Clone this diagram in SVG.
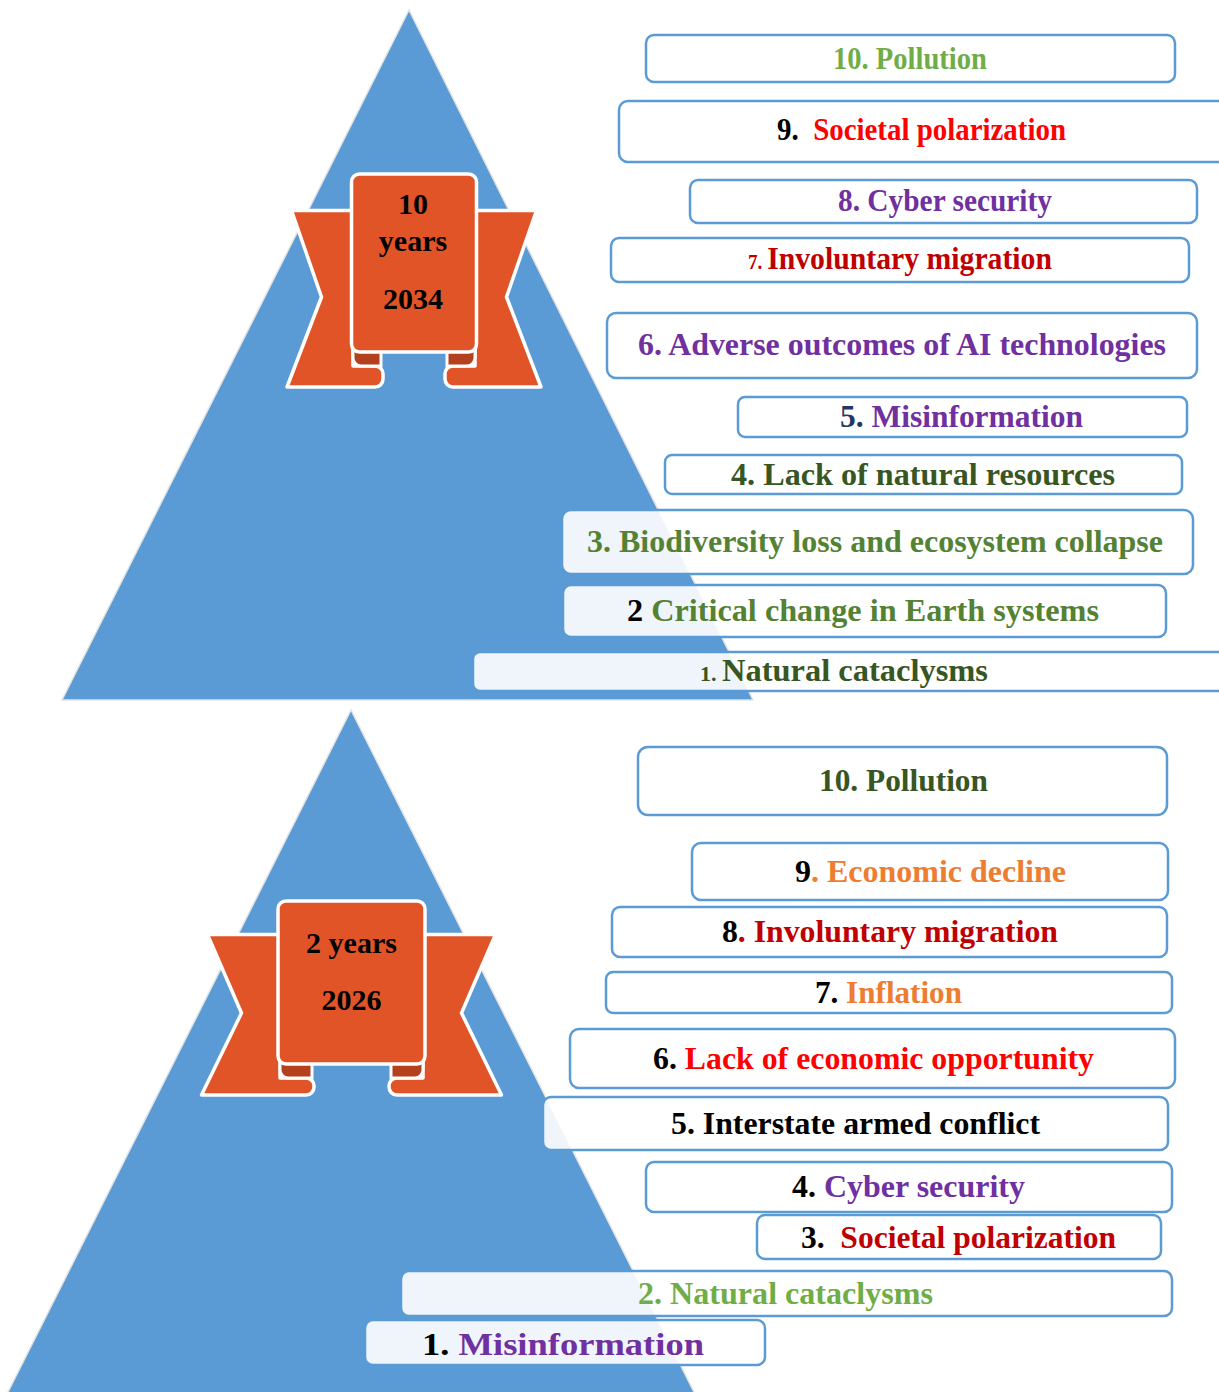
<svg xmlns="http://www.w3.org/2000/svg" width="1219" height="1392" viewBox="0 0 1219 1392">
<style>
.tri{fill:#5B9BD5;stroke:#E3E3E3;stroke-width:1.5}
.rib{fill:#E05427;stroke:#FFFFFF;stroke-width:3.5;stroke-linejoin:round}
.fold{fill:#B4411E;stroke:#FFFFFF;stroke-width:3}
.box{fill:#FFFFFF;fill-opacity:0.9;stroke:#5B9BD5;stroke-width:2.5}
.t{font-family:"Liberation Serif","Times New Roman",serif;font-weight:bold;font-size:31px}
.rt{font-family:"Liberation Serif","Times New Roman",serif;font-weight:bold;font-size:30px;fill:#000;text-anchor:middle}
.k{fill:#000000}.lg{fill:#70AD47}.mg{fill:#548235}.dg{fill:#375623}.pu{fill:#7030A0}.rd{fill:#FF0000}.dr{fill:#C00000}.or{fill:#ED7D31}.nv{fill:#1F3864}
</style>

<g id="pyramid-2034">
<polygon class="tri" points="409,10 62,700 753,700"/>
</g>
<g id="pyramid-2026">
<polygon class="tri" points="351,710 4,1400 698,1400"/>
</g>

<g id="ribbon-2034">
<path class="rib" d="M291.5,210.5 H353 V366 H375 A8,8 0 0 1 383,374 V379 A8,8 0 0 1 375,387 H287 L321.5,297 Z"/>
<path class="rib" d="M536.5,210.5 H475 V366 H453 A8,8 0 0 0 445,374 V379 A8,8 0 0 0 453,387 H541 L506.5,297 Z"/>
<path class="fold" d="M353,350 H381 V366 H361 A8,8 0 0 1 353,358 Z"/>
<path class="fold" d="M475,350 H447 V366 H467 A8,8 0 0 0 475,358 Z"/>
<rect class="rib" x="351.5" y="174" width="125" height="178" rx="8" stroke-width="4"/>
<text class="rt" x="413" y="214">10</text>
<text class="rt" x="413" y="251">years</text>
<text class="rt" x="413" y="309">2034</text>
</g>

<g id="ribbon-2026">
<path class="rib" d="M207.5,934.5 H280 V1078 H306 A8,8 0 0 1 314,1086 V1087 A8,8 0 0 1 306,1095 H201.5 L241.5,1013 Z"/>
<path class="rib" d="M495.5,934.5 H423 V1078 H397 A8,8 0 0 0 389,1086 V1087 A8,8 0 0 0 397,1095 H501.5 L461.5,1013 Z"/>
<path class="fold" d="M280,1062 H312 V1078 H288 A8,8 0 0 1 280,1070 Z"/>
<path class="fold" d="M423,1062 H391 V1078 H415 A8,8 0 0 0 423,1070 Z"/>
<rect class="rib" x="278" y="901" width="147" height="163" rx="8" stroke-width="4"/>
<text class="rt" x="351.5" y="953" font-size="31">2 years</text>
<text class="rt" x="351.5" y="1010" font-size="31">2026</text>
</g>

<g id="top-10"><rect class="box" x="646" y="35" width="529" height="47" rx="8"/>
<text class="t lg" x="833" y="69" textLength="154" lengthAdjust="spacingAndGlyphs">10. Pollution</text></g>
<g id="top-9"><rect class="box" x="619" y="101" width="610" height="61" rx="9"/>
<text class="t" x="777" y="140" textLength="289" lengthAdjust="spacingAndGlyphs" xml:space="preserve"><tspan class="k">9.  </tspan><tspan class="rd">Societal polarization</tspan></text></g>
<g id="top-8"><rect class="box" x="690" y="180" width="507" height="43" rx="8"/>
<text class="t pu" x="838" y="211" textLength="214" lengthAdjust="spacingAndGlyphs">8. Cyber security</text></g>
<g id="top-7"><rect class="box" x="611" y="238" width="578" height="44" rx="8"/>
<text class="t dr" x="748" y="269" textLength="304" lengthAdjust="spacingAndGlyphs"><tspan font-size="20">7. </tspan>Involuntary migration</text></g>
<g id="top-6"><rect class="box" x="607" y="313" width="590" height="65" rx="9"/>
<text class="t pu" x="638" y="355" textLength="528" lengthAdjust="spacingAndGlyphs">6. Adverse outcomes of AI technologies</text></g>
<g id="top-5"><rect class="box" x="738" y="397" width="449" height="40" rx="7"/>
<text class="t" x="840" y="427" textLength="243" lengthAdjust="spacingAndGlyphs"><tspan class="nv">5. </tspan><tspan class="pu">Misinformation</tspan></text></g>
<g id="top-4"><rect class="box" x="665" y="455" width="517" height="39" rx="7"/>
<text class="t dg" x="731" y="485" textLength="384" lengthAdjust="spacingAndGlyphs">4. Lack of natural resources</text></g>
<g id="top-3"><rect class="box" x="562" y="510" width="631" height="64" rx="9"/>
<text class="t mg" x="587" y="552" textLength="576" lengthAdjust="spacingAndGlyphs">3. Biodiversity loss and ecosystem collapse</text></g>
<g id="top-2"><rect class="box" x="563" y="585" width="603" height="52" rx="8"/>
<text class="t" x="627" y="621" textLength="472" lengthAdjust="spacingAndGlyphs"><tspan class="k">2 </tspan><tspan class="mg">Critical change in Earth systems</tspan></text></g>
<g id="top-1"><rect class="box" x="473" y="652" width="756" height="39" rx="7"/>
<text class="t dg" x="700" y="681" textLength="288" lengthAdjust="spacingAndGlyphs"><tspan font-size="21">1. </tspan>Natural cataclysms</text></g>

<g id="bot-10"><rect class="box" x="638" y="747" width="529" height="68" rx="10"/>
<text class="t dg" x="819" y="791" textLength="169" lengthAdjust="spacingAndGlyphs">10. Pollution</text></g>
<g id="bot-9"><rect class="box" x="692" y="843" width="476" height="57" rx="9"/>
<text class="t" x="795" y="882" textLength="271" lengthAdjust="spacingAndGlyphs"><tspan class="k">9</tspan><tspan class="or">. Economic decline</tspan></text></g>
<g id="bot-8"><rect class="box" x="612" y="907" width="555" height="50" rx="8"/>
<text class="t" x="722" y="942" textLength="336" lengthAdjust="spacingAndGlyphs"><tspan class="k">8</tspan><tspan class="dr">. Involuntary migration</tspan></text></g>
<g id="bot-7"><rect class="box" x="606" y="972" width="566" height="41" rx="7"/>
<text class="t" x="815" y="1003" textLength="147" lengthAdjust="spacingAndGlyphs"><tspan class="k">7. </tspan><tspan class="or">Inflation</tspan></text></g>
<g id="bot-6"><rect class="box" x="570" y="1029" width="605" height="59" rx="9"/>
<text class="t" x="653" y="1069" textLength="441" lengthAdjust="spacingAndGlyphs"><tspan class="k">6. </tspan><tspan class="rd">Lack of economic opportunity</tspan></text></g>
<g id="bot-5"><rect class="box" x="543" y="1097" width="625" height="53" rx="8"/>
<text class="t k" x="671" y="1134" textLength="369" lengthAdjust="spacingAndGlyphs">5. Interstate armed conflict</text></g>
<g id="bot-4"><rect class="box" x="646" y="1162" width="526" height="50" rx="8"/>
<text class="t" x="792" y="1197" textLength="233" lengthAdjust="spacingAndGlyphs"><tspan class="k">4. </tspan><tspan class="pu">Cyber security</tspan></text></g>
<g id="bot-3"><rect class="box" x="757" y="1215" width="404" height="44" rx="8"/>
<text class="t" x="801" y="1248" textLength="315" lengthAdjust="spacingAndGlyphs" xml:space="preserve"><tspan class="k">3.  </tspan><tspan class="dr">Societal polarization</tspan></text></g>
<g id="bot-2"><rect class="box" x="401" y="1271" width="771" height="45" rx="8"/>
<text class="t lg" x="638" y="1304" textLength="295" lengthAdjust="spacingAndGlyphs">2. Natural cataclysms</text></g>
<g id="bot-1"><rect class="box" x="365" y="1320" width="400" height="45" rx="8"/>
<text class="t" x="422" y="1355" font-size="36" textLength="282" lengthAdjust="spacingAndGlyphs"><tspan class="k">1. </tspan><tspan class="pu">Misinformation</tspan></text></g>
<g id="connectors"/>
</svg>
